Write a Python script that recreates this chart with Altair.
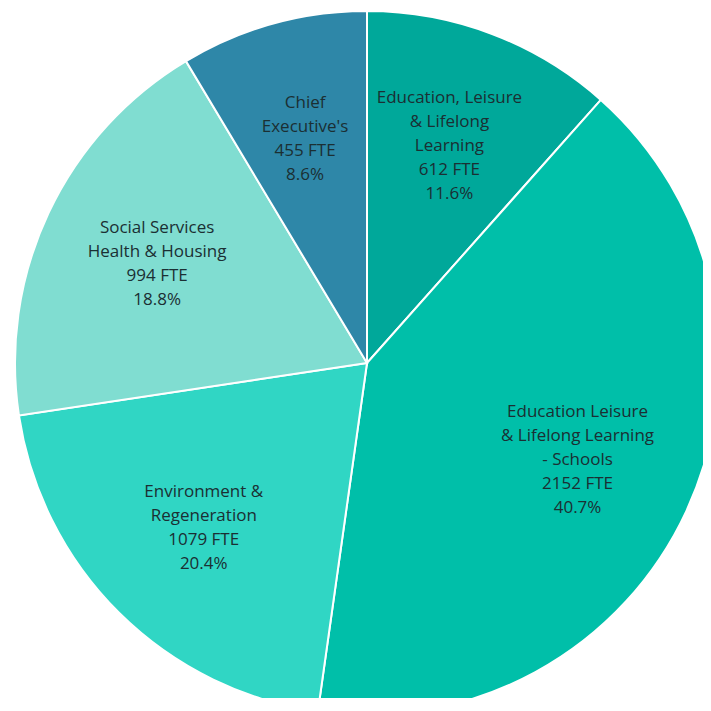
import altair as alt
import pandas as pd

categories = [
    "Education, Leisure\n& Lifelong\nLearning",
    "Education Leisure\n& Lifelong Learning\n- Schools",
    "Environment &\nRegeneration",
    "Social Services\nHealth & Housing",
    "Chief\nExecutive's",
]
fte = [612, 2152, 1079, 994, 455]
percents = ["11.6%", "40.7%", "20.4%", "18.8%", "8.6%"]
colors = ["#00A89A", "#00BFA9", "#30D6C4", "#80DDD1", "#2E87A8"]

LINE_H = 24

df = pd.DataFrame({
    "category": categories,
    "fte": fte,
    "pct": percents,
    "order": list(range(len(categories))),
})
df["label"] = [f"{c}\n{v} FTE\n{p}" for c, v, p in zip(categories, fte, percents)]
df["nlines"] = [s.count("\n") + 1 for s in df["label"]]

cx, cy = 359, 355

base = alt.Chart(df).encode(
    theta=alt.Theta("fte:Q", stack=True),
    order=alt.Order("order:Q"),
    x=alt.value(cx),
    y=alt.value(cy),
)

arcs = base.mark_arc(outerRadius=352, stroke="white", strokeWidth=2, clip=True).encode(
    color=alt.Color("category:N", scale=alt.Scale(domain=categories, range=colors), legend=None)
)

text_style = dict(
    radius=232, font="Open Sans", fontSize=17, lineHeight=LINE_H, color="#1B2F33",
    lineBreak="\n", align="center", baseline="middle",
)

layers = [arcs]
for n in sorted(set(df["nlines"])):
    layers.append(
        base.mark_text(dy=-(n - 1) * LINE_H / 2, **text_style)
        .encode(
            text="label:N",
            opacity=alt.condition(f"datum.nlines == {n}", alt.value(1), alt.value(0)),
        )
    )

chart = alt.layer(*layers).properties(
    width=695, height=690,
    autosize=alt.AutoSizeParams(type="none"),
    padding=0,
    background="white",
).configure_view(strokeWidth=0)

chart.save("out.html", embed_options={"renderer": "svg", "actions": False})
